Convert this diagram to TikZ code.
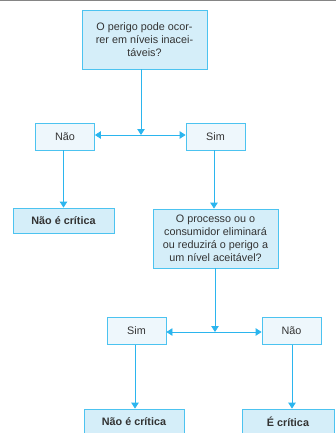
\documentclass[tikz,border=0pt]{standalone}
\usepackage{fontspec}
\setmainfont{Liberation Sans}
\usetikzlibrary{arrows.meta}
\definecolor{edgeblue}{HTML}{4CC3F0}
\definecolor{arrowblue}{HTML}{2BB5EE}
\definecolor{qfill}{HTML}{D5EEF9}
\definecolor{cfill}{HTML}{EEF7FC}
\definecolor{ink}{HTML}{333333}
\definecolor{rulegray}{HTML}{858585}
\begin{document}
\begin{tikzpicture}[x=1pt,y=-1pt,
  font=\fontsize{10.8}{13}\selectfont,
  box/.style={draw=edgeblue, line width=0.8pt, inner sep=0pt, align=center, text=ink},
  question/.style={box, fill=qfill},
  choice/.style={box, fill=cfill, minimum width=59pt, minimum height=27pt},
  result/.style={box, fill=qfill, minimum height=25pt, font=\fontsize{10.8}{13}\selectfont\bfseries},
  link/.style={draw=arrowblue, line width=0.8pt, -{Triangle[length=6pt,width=7.5pt]}},
  biway/.style={draw=arrowblue, line width=0.8pt, {Triangle[length=6pt,width=7.5pt]}-{Triangle[length=6pt,width=7.5pt]}}]
\useasboundingbox (0,0) rectangle (336,433);
\clip (0,0) rectangle (336,433);

% rule along the top edge
\draw[rulegray, line width=1pt] (0,0.5) -- (336,0.5);

% first question and its two answers
\node[question, minimum width=125pt, minimum height=59pt] (q1) at (144.5,39.5)
  {O perigo pode ocor-\\rer em níveis inacei-\\táveis?};
\node[choice] (nao1) at (65,136.5) {Não};
\node[choice] (sim1) at (215.5,136.5) {Sim};
\coordinate (j1) at (141,135);
\draw[link] (q1.south -| j1) -- (j1);
\draw[biway] (nao1.east |- j1) -- (sim1.west |- j1);

% outcome of the first "Não"
\node[result, minimum width=101pt] (nc1) at (63.5,220.5) {Não é crítica};
\draw[link] (nao1.south -| nc1) -- (nc1.north);

% second question
\node[question, minimum width=125pt, minimum height=59pt] (q2) at (215.5,238.5)
  {O processo ou o\\consumidor eliminará\\ou reduzirá o perigo a\\um nível aceitável?};
\draw[link] (sim1.south -| 214,0) -- (q2.north -| 214,0);

% answers to the second question
\node[choice] (sim2) at (136.5,331) {Sim};
\node[choice] (nao2) at (291.5,331) {Não};
\coordinate (j2) at (215,332);
\draw[link] (q2.south -| j2) -- (j2);
\draw[biway] (sim2.east |- j2) -- (nao2.west |- j2);

% final outcomes
\node[result, minimum width=100pt] (nc2) at (134,421.5) {Não é crítica};
\node[result, minimum width=92pt] (ec) at (288,421.5) {É crítica};
\draw[link] (sim2.south -| 135,0) -- (nc2.north -| 135,0);
\draw[link] (nao2.south -| 292,0) -- (ec.north -| 292,0);
\end{tikzpicture}
\end{document}
